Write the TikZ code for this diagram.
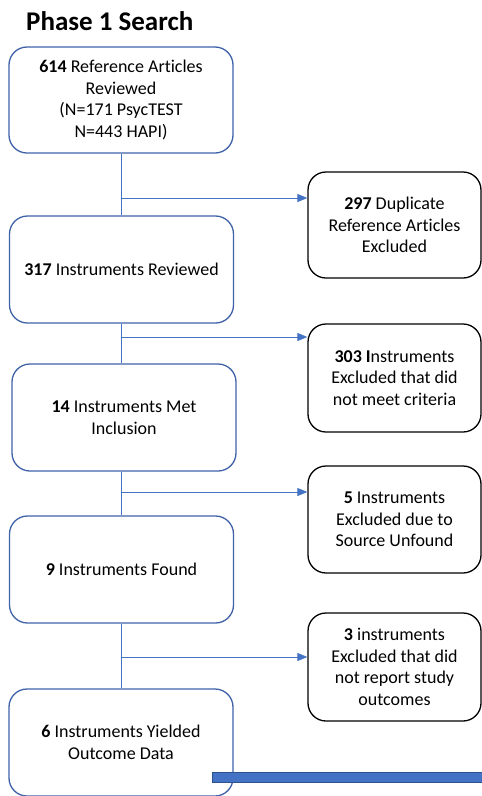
\documentclass[tikz,border=0pt]{standalone}
\usepackage{fontspec}
\setmainfont[Ligatures=CommonOff]{Carlito}
\usetikzlibrary{arrows.meta}
\definecolor{boxblue}{HTML}{3F62A8}
\definecolor{linkblue}{HTML}{4472C4}
\definecolor{bardark}{HTML}{2F528F}
\tikzset{
  x=1pt, y=-1pt,
  every node/.style={font=\fontsize{18}{21.5}\selectfont, align=center, inner sep=0pt},
  mainbox/.style={draw=boxblue, line width=1.3pt, rounded corners=18pt, fill=white},
  sidebox/.style={draw=black, line width=1.3pt, rounded corners=18pt, fill=white},
  flow/.style={draw=linkblue, line width=0.9pt},
  branch/.style={flow, -{Triangle[length=10pt,width=8pt]}},
}
\begin{document}
\begin{tikzpicture}
\useasboundingbox (0,0) rectangle (482,796);
\fill[white] (0,0) rectangle (482,796);

% title
\node[font=\fontsize{27}{30}\selectfont\bfseries, anchor=west] (title) at (26,21) {Phase 1 Search};

% main column
\node[mainbox, minimum width=224pt, minimum height=106pt] (b1) at (121,100)
  {\textbf{614} Reference Articles\\Reviewed\\(N=171 PsycTEST\\N=443 HAPI)};
\node[mainbox, minimum width=224pt, minimum height=107pt] (b2) at (121.5,269.5)
  {\textbf{317} Instruments Reviewed};
\node[mainbox, minimum width=224pt, minimum height=107pt] (b3) at (124,417.5)
  {\textbf{14} Instruments Met\\Inclusion};
\node[mainbox, minimum width=224pt, minimum height=107pt] (b4) at (121.5,569.5)
  {\textbf{9} Instruments Found};
\node[mainbox, minimum width=224pt, minimum height=107pt] (b5) at (121,742.5)
  {\textbf{6} Instruments Yielded\\Outcome Data};

% exclusion boxes
\node[sidebox, minimum width=173pt, minimum height=106pt] (r1) at (394.5,225)
  {\textbf{297} Duplicate\\Reference Articles\\Excluded};
\node[sidebox, minimum width=173pt, minimum height=108pt] (r2) at (394.5,378)
  {\textbf{303 I}nstruments\\Excluded that did\\not meet criteria};
\node[sidebox, minimum width=173pt, minimum height=107pt] (r3) at (394.5,519.5)
  {\textbf{5} Instruments\\Excluded due to\\Source Unfound};
\node[sidebox, minimum width=173pt, minimum height=108pt] (r4) at (394.5,667)
  {\textbf{3} instruments\\Excluded that did\\not report study\\outcomes};

% branch points on the trunk
\coordinate (j1) at (121,198);
\coordinate (j2) at (121,337);
\coordinate (j3) at (121,492);
\coordinate (j4) at (121,657);

% trunk
\draw[flow] (b1.south -| j1) -- (b2.north -| j1);
\draw[flow] (b2.south -| j2) -- (b3.north -| j2);
\draw[flow] (b3.south -| j3) -- (b4.north -| j3);
\draw[flow] (b4.south -| j4) -- (b5.north -| j4);

% exclusions
\draw[branch] (j1) -- (j1 -| r1.west);
\draw[branch] (j2) -- (j2 -| r2.west);
\draw[branch] (j3) -- (j3 -| r3.west);
\draw[branch] (j4) -- (j4 -| r4.west);

% bar at the bottom
\node[draw=bardark, fill=linkblue, line width=0.8pt, minimum width=275pt, minimum height=10pt, anchor=west] (bar) at (212,777.5) {};
\end{tikzpicture}
\end{document}
